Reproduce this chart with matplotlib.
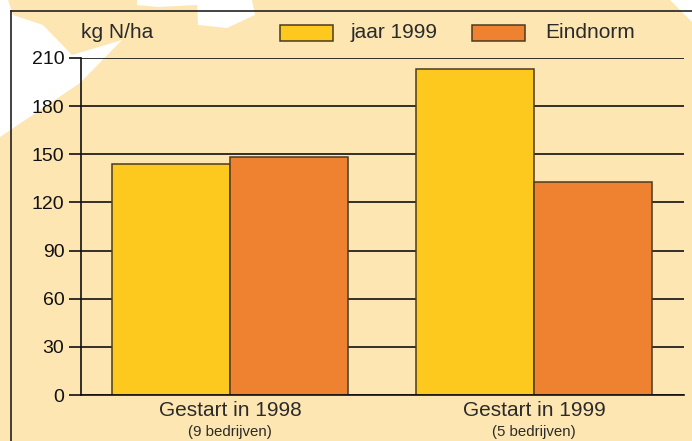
import matplotlib.pyplot as plt
from matplotlib.patches import Polygon
from matplotlib.lines import Line2D
import numpy as np

# data
groups = ['Gestart in 1998', 'Gestart in 1999']
subtitles = ['(9 bedrijven)', '(5 bedrijven)']
jaar_1999 = [144, 203]
eindnorm = [148, 133]
yticks = [0, 30, 60, 90, 120, 150, 180, 210]

W, H = 692, 441
bg = '#FDE6B1'
yellow = '#FDC91E'
orange = '#EE8230'
edge = '#4a3b22'
txt = '#2b2b2b'

plt.rcParams['font.family'] = ['Liberation Sans', 'DejaVu Sans']

fig = plt.figure(figsize=(W / 100, H / 100), dpi=100)
fig.patch.set_facecolor(bg)


def px(points):
    return [(x / W, 1 - y / H) for x, y in points]


# white map shapes in the background
shapes = [
    [(0, 0), (8, 0), (13, 15), (43, 25), (72, 55), (122, 40), (80, 83), (0, 137)],
    [(137, 0), (137, 5), (158, 7), (197, 5), (198, 25), (227, 28), (255, 15), (252, 0)],
    [(670, 0), (692, 0), (692, 22)],
]
for s in shapes:
    fig.patches.append(Polygon(px(s), closed=True, transform=fig.transFigure,
                               facecolor='white', edgecolor='none', zorder=-5))

# outer frame (top and left)
fig.add_artist(Line2D([11 / W, 1], [1 - 11 / H, 1 - 11 / H], transform=fig.transFigure,
                      color='#222222', lw=1.2, zorder=1))
fig.add_artist(Line2D([11 / W, 11 / W], [0, 1 - 11 / H], transform=fig.transFigure,
                      color='#222222', lw=1.2, zorder=1))

ax = fig.add_axes([81 / W, 46 / H, 603 / W, 337 / H])
ax.set_facecolor('none')
ax.set_zorder(2)

x = np.arange(len(groups))
w = 0.388
ax.bar(x - w / 2, jaar_1999, w, color=yellow, edgecolor=edge, lw=1.1, zorder=3)
ax.bar(x + w / 2, eindnorm, w, color=orange, edgecolor=edge, lw=1.1, zorder=3)

ax.set_ylim(0, 210)
ax.set_xlim(-0.49, 1.493)
ax.set_yticks(yticks)
ax.set_yticklabels([str(t) for t in yticks], fontsize=14, color='#111111')
ax.yaxis.grid(True, color='#111111', lw=1.2, zorder=1)
ax.tick_params(axis='y', length=9, width=1.2, color='#111111', pad=3)
ax.set_xticks([])
for sp in ['top', 'right']:
    ax.spines[sp].set_visible(False)
for sp in ['left', 'bottom']:
    ax.spines[sp].set_linewidth(1.2)
    ax.spines[sp].set_color('#111111')
    ax.spines[sp].set_zorder(4)

for i in range(len(groups)):
    ax.text(x[i], -3.5, groups[i], ha='center', va='top', fontsize=15, color=txt)
    ax.text(x[i], -18.5, subtitles[i], ha='center', va='top', fontsize=10.8, color=txt)

# unit label and legend
fig.text(81 / W, 1 - 33 / H, 'kg N/ha', fontsize=15, color=txt, va='center', ha='left', zorder=3)
fig.patches.append(plt.Rectangle((280 / W, 1 - 41 / H), 53 / W, 16 / H, transform=fig.transFigure,
                                 facecolor=yellow, edgecolor=edge, lw=1.1, zorder=3))
fig.text(351 / W, 1 - 33 / H, 'jaar 1999', fontsize=15, color=txt, va='center', ha='left', zorder=3)
fig.patches.append(plt.Rectangle((472 / W, 1 - 41 / H), 53 / W, 16 / H, transform=fig.transFigure,
                                 facecolor=orange, edgecolor=edge, lw=1.1, zorder=3))
fig.text(545 / W, 1 - 33 / H, 'Eindnorm', fontsize=15, color=txt, va='center', ha='left', zorder=3)

plt.savefig('out.png', dpi=100, facecolor=bg)
